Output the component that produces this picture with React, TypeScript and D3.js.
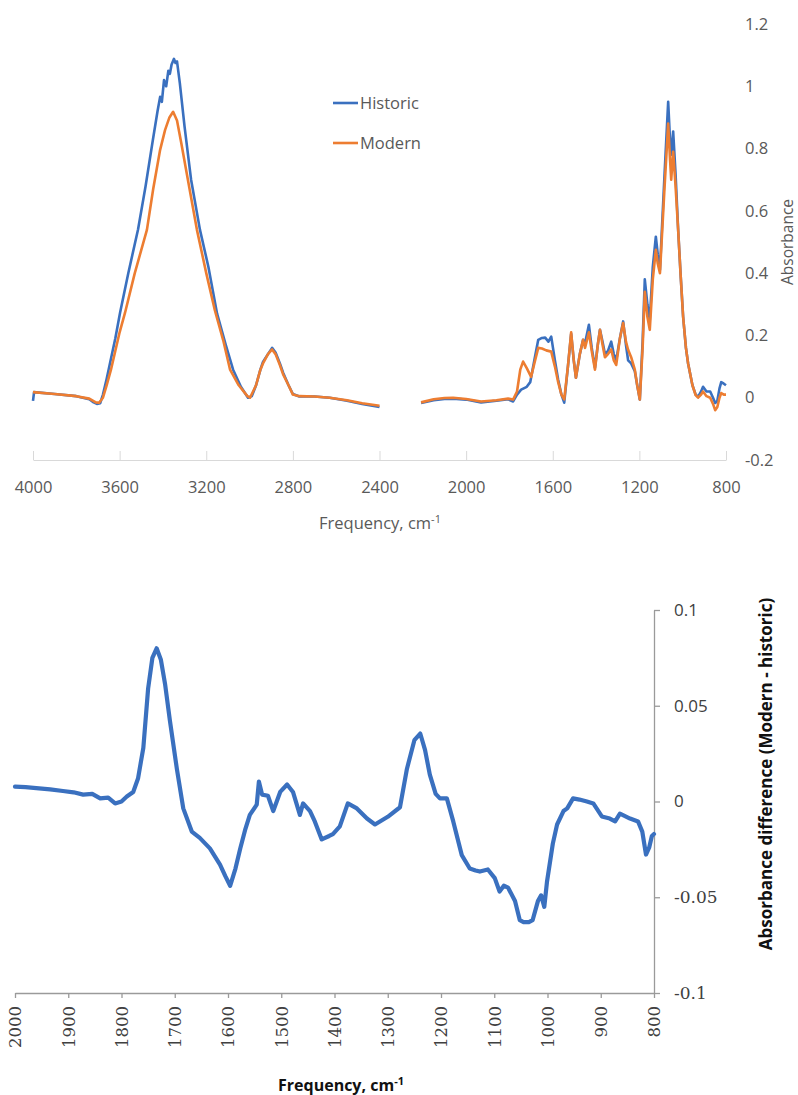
import * as d3 from "d3";
import React, { useEffect, useRef } from "react";

// top panel: FTIR spectra [wavenumber, absorbance]
const historicHigh = [
  [4000, -0.01], [3995, 0.018], [3900, 0.012], [3800, 0.005], [3740, -0.005], [3720, -0.015],
  [3705, -0.02], [3690, -0.018], [3677, 0.01], [3660, 0.06], [3644, 0.112], [3620, 0.19],
  [3598, 0.273], [3560, 0.4], [3515, 0.54], [3480, 0.68], [3446, 0.83], [3425, 0.92],
  [3413, 0.966], [3405, 0.95], [3395, 1.02], [3385, 1.0], [3375, 1.05], [3368, 1.04], [3360, 1.07],
  [3349, 1.088], [3342, 1.075], [3335, 1.08], [3322, 1.01], [3300, 0.87], [3270, 0.7],
  [3229, 0.539], [3190, 0.42], [3150, 0.27], [3110, 0.17], [3076, 0.09], [3040, 0.035],
  [3007, 0.0], [2990, 0.005], [2970, 0.04], [2950, 0.09], [2938, 0.115], [2915, 0.14],
  [2896, 0.16], [2880, 0.145], [2860, 0.11], [2845, 0.08], [2820, 0.04], [2800, 0.012],
  [2770, 0.004], [2700, 0.004], [2630, 0.0], [2550, -0.01], [2480, -0.02], [2400, -0.03],
];
const modernHigh = [
  [4000, 0.018], [3900, 0.012], [3800, 0.005], [3740, -0.003], [3710, -0.015], [3695, -0.016],
  [3677, 0.0], [3660, 0.04], [3640, 0.09], [3620, 0.15], [3600, 0.21], [3575, 0.273],
  [3530, 0.4], [3474, 0.539], [3445, 0.67], [3413, 0.796], [3390, 0.86], [3370, 0.9],
  [3353, 0.918], [3335, 0.89], [3316, 0.82], [3290, 0.72], [3243, 0.539], [3200, 0.4],
  [3160, 0.28], [3120, 0.18], [3090, 0.09], [3050, 0.04], [3010, 0.005], [2998, 0.0],
  [2970, 0.04], [2950, 0.09], [2938, 0.11], [2915, 0.14], [2896, 0.155], [2880, 0.14],
  [2860, 0.105], [2845, 0.075], [2820, 0.04], [2800, 0.01], [2770, 0.005], [2700, 0.004],
  [2630, 0.0], [2550, -0.008], [2480, -0.018], [2400, -0.026],
];
const historicLow = [
  [2208, -0.017], [2150, -0.008], [2100, -0.004], [2060, -0.003], [2000, -0.006], [1931, -0.015],
  [1860, -0.01], [1806, -0.005], [1783, -0.012], [1765, 0.01], [1746, 0.026], [1720, 0.035],
  [1704, 0.05], [1685, 0.12], [1667, 0.186], [1650, 0.192], [1635, 0.193], [1620, 0.18],
  [1607, 0.196], [1590, 0.12], [1575, 0.058], [1560, 0.01], [1547, -0.016], [1530, 0.1],
  [1515, 0.205], [1503, 0.12], [1493, 0.064], [1475, 0.14], [1460, 0.186], [1451, 0.175],
  [1433, 0.234], [1420, 0.16], [1405, 0.096], [1392, 0.17], [1382, 0.218], [1370, 0.18],
  [1359, 0.14], [1345, 0.15], [1330, 0.18], [1318, 0.14], [1307, 0.12], [1290, 0.19],
  [1275, 0.245], [1262, 0.17], [1252, 0.12], [1238, 0.11], [1221, 0.085], [1210, 0.04],
  [1198, -0.006], [1185, 0.18], [1175, 0.38], [1163, 0.3], [1152, 0.25], [1138, 0.42],
  [1124, 0.517], [1115, 0.46], [1105, 0.41], [1085, 0.7], [1067, 0.95], [1058, 0.82],
  [1053, 0.78], [1044, 0.855], [1033, 0.72], [1021, 0.54], [1010, 0.4], [998, 0.26],
  [985, 0.16], [975, 0.11], [955, 0.04], [940, 0.01], [929, 0.003], [915, 0.02], [906, 0.035],
  [890, 0.02], [873, 0.02], [860, 0.0], [850, -0.017], [840, -0.01], [830, 0.03], [822, 0.05],
  [810, 0.045], [800, 0.04],
];
const modernLow = [
  [2208, -0.015], [2150, -0.005], [2100, -0.001], [2060, 0.0], [2000, -0.004], [1931, -0.012],
  [1860, -0.008], [1806, -0.003], [1783, -0.006], [1765, 0.02], [1750, 0.09], [1737, 0.116],
  [1720, 0.095], [1700, 0.067], [1685, 0.11], [1667, 0.16], [1650, 0.158], [1630, 0.152],
  [1607, 0.148], [1590, 0.1], [1575, 0.05], [1560, 0.01], [1547, -0.005], [1530, 0.1],
  [1515, 0.21], [1503, 0.12], [1493, 0.064], [1475, 0.14], [1460, 0.186], [1451, 0.16],
  [1433, 0.21], [1420, 0.15], [1405, 0.09], [1392, 0.17], [1382, 0.218], [1370, 0.17],
  [1359, 0.13], [1345, 0.14], [1330, 0.155], [1318, 0.12], [1307, 0.105], [1290, 0.19],
  [1275, 0.24], [1262, 0.18], [1252, 0.154], [1238, 0.13], [1221, 0.09], [1210, 0.04],
  [1198, -0.006], [1185, 0.16], [1175, 0.34], [1163, 0.26], [1152, 0.218], [1138, 0.38],
  [1124, 0.475], [1115, 0.43], [1105, 0.4], [1085, 0.66], [1067, 0.88], [1058, 0.76],
  [1053, 0.7], [1044, 0.79], [1033, 0.68], [1021, 0.54], [1010, 0.4], [998, 0.26],
  [985, 0.16], [975, 0.11], [955, 0.04], [940, 0.008], [929, 0.0], [915, 0.01], [906, 0.02],
  [890, 0.005], [873, 0.0], [860, -0.02], [850, -0.04], [840, -0.03], [830, 0.0], [822, 0.015],
  [810, 0.01], [800, 0.01],
];

// bottom panel: modern - historic
const difference = [
  [2000, 0.0078], [1980, 0.0075], [1960, 0.007], [1934, 0.0063], [1910, 0.0055], [1890, 0.0048],
  [1872, 0.0036], [1855, 0.004], [1840, 0.0016], [1825, 0.002], [1812, -0.001], [1800, 0.0],
  [1790, 0.0026], [1778, 0.005], [1769, 0.012], [1759, 0.028], [1750, 0.059], [1742, 0.075],
  [1734, 0.08], [1726, 0.074], [1718, 0.061], [1709, 0.042], [1696, 0.017], [1684, -0.0036],
  [1668, -0.0157], [1653, -0.019], [1634, -0.0245], [1615, -0.033], [1605, -0.039],
  [1596, -0.044], [1586, -0.035], [1577, -0.0245], [1568, -0.015], [1559, -0.007],
  [1546, -0.0016], [1542, 0.0104], [1536, 0.0036], [1525, 0.003], [1515, -0.005], [1502, 0.005],
  [1489, 0.0089], [1478, 0.005], [1465, -0.007], [1459, -0.001], [1446, -0.005], [1437, -0.0104],
  [1424, -0.0198], [1410, -0.018], [1403, -0.017], [1390, -0.013], [1375, -0.001],
  [1358, -0.0036], [1339, -0.0089], [1324, -0.012], [1300, -0.008], [1277, -0.003],
  [1264, 0.017], [1250, 0.032], [1239, 0.0355], [1230, 0.027], [1221, 0.014], [1210, 0.004],
  [1202, 0.0016], [1189, 0.0016], [1177, -0.0104], [1161, -0.028], [1146, -0.035],
  [1135, -0.036], [1127, -0.0366], [1112, -0.0355], [1099, -0.04], [1090, -0.047],
  [1082, -0.044], [1074, -0.045], [1061, -0.052], [1052, -0.062], [1045, -0.063],
  [1035, -0.063], [1028, -0.062], [1018, -0.052], [1012, -0.049], [1006, -0.055],
  [1001, -0.042], [990, -0.022], [982, -0.012], [970, -0.005], [963, -0.0036], [952, 0.0016],
  [940, 0.001], [926, 0.0], [914, -0.001], [898, -0.0078], [883, -0.0089], [873, -0.0104],
  [864, -0.0063], [845, -0.0089], [830, -0.0104], [822, -0.0157], [815, -0.0277],
  [809, -0.024], [804, -0.018], [800, -0.017],
];

const topXTicks = [4000, 3600, 3200, 2800, 2400, 2000, 1600, 1200, 800];
const topYTicks = [-0.2, 0, 0.2, 0.4, 0.6, 0.8, 1, 1.2];
const botXTicks = [2000, 1900, 1800, 1700, 1600, 1500, 1400, 1300, 1200, 1100, 1000, 900, 800];
const botYTicks = [-0.1, -0.05, 0, 0.05, 0.1];
const legendNames = ["Historic", "Modern"];
const colors = ["#3a70bf", "#ed7d31"];

function App() {
  const ref = useRef(null);

  useEffect(() => {
    const svg = d3.select(ref.current);
    svg.selectAll("*").remove();
    const font = "'Open Sans', sans-serif";
    const fmt = (d) => String(+(+d).toFixed(2));

    // ---------- top chart ----------
    const x1 = d3.scaleLinear().domain([4000, 800]).range([33, 726]);
    const y1 = d3.scaleLinear().domain([-0.2, 1.2]).range([460, 24]);

    const xa1 = svg
      .append("g")
      .attr("transform", "translate(0," + y1(-0.2) + ")")
      .call(d3.axisBottom(x1).tickValues(topXTicks).tickSizeInner(-9).tickSizeOuter(0).tickPadding(21).tickFormat(fmt));
    xa1.selectAll("path,line").attr("stroke", "#d9d9d9");
    xa1.selectAll("text").attr("fill", "#595959").style("font-family", font).style("font-size", "16.5px");

    const ya1 = svg
      .append("g")
      .attr("transform", "translate(740,0)")
      .call(d3.axisRight(y1).tickValues(topYTicks).tickSize(0).tickPadding(5).tickFormat(fmt));
    ya1.select(".domain").remove();
    ya1.selectAll("text").attr("fill", "#595959").style("font-family", font).style("font-size", "16.5px");

    const line1 = d3
      .line()
      .x((d) => x1(d[0]))
      .y((d) => y1(d[1]));

    [[historicHigh, historicLow], [modernHigh, modernLow]].forEach((segs, i) => {
      segs.forEach((s) => {
        svg
          .append("path")
          .datum(s)
          .attr("d", line1)
          .attr("fill", "none")
          .attr("stroke", colors[i])
          .attr("stroke-width", 2.6)
          .attr("stroke-linejoin", "round");
      });
    });

    legendNames.forEach((name, i) => {
      const ly = 103 + i * 40;
      svg.append("line").attr("x1", 333).attr("x2", 358).attr("y1", ly).attr("y2", ly)
        .attr("stroke", colors[i]).attr("stroke-width", 2.6);
      svg.append("text").attr("x", 360).attr("y", ly).attr("dy", "0.35em").attr("fill", "#595959")
        .style("font-family", font).style("font-size", "16.5px").text(name);
    });

    const t1 = svg.append("text").attr("x", 380).attr("y", 529).attr("text-anchor", "middle")
      .attr("fill", "#595959").style("font-family", font).style("font-size", "16.5px");
    t1.append("tspan").text("Frequency, cm");
    t1.append("tspan").attr("dy", -6).style("font-size", "11px").text("-1");

    svg.append("text").attr("transform", "translate(788,242) rotate(-90)").attr("text-anchor", "middle")
      .attr("dy", "0.35em").attr("fill", "#595959").style("font-family", font).style("font-size", "15.5px")
      .text("Absorbance");

    // ---------- bottom chart ----------
    const x2 = d3.scaleLinear().domain([2000, 800]).range([15, 654]);
    const y2 = d3.scaleLinear().domain([-0.1, 0.1]).range([993, 610]);

    const xa2 = svg
      .append("g")
      .attr("transform", "translate(0," + y2(-0.1) + ")")
      .call(d3.axisBottom(x2).tickValues(botXTicks).tickSizeInner(5).tickSizeOuter(0).tickFormat(fmt));
    xa2.selectAll("path,line").attr("stroke", "#9a9a9a").attr("stroke-width", 1.3);
    xa2.selectAll("text")
      .attr("transform", "rotate(-90)")
      .attr("x", -13)
      .attr("y", 0)
      .attr("dy", "0.36em")
      .style("text-anchor", "end")
      .attr("fill", "#404040")
      .style("font-family", "'DejaVu Serif', serif")
      .style("font-size", "16.5px");

    const ya2 = svg
      .append("g")
      .attr("transform", "translate(" + x2(800) + ",0)")
      .call(d3.axisRight(y2).tickValues(botYTicks).tickSizeInner(6).tickSizeOuter(0).tickPadding(14).tickFormat(fmt));
    ya2.selectAll("path,line").attr("stroke", "#9a9a9a").attr("stroke-width", 1.3);
    ya2.selectAll("text").attr("fill", "#404040").style("font-size", "17px")
      .style("font-family", (d) => (d < 0 ? "'DejaVu Serif', serif" : font));

    svg
      .append("path")
      .datum(difference)
      .attr("d", d3.line().x((d) => x2(d[0])).y((d) => y2(d[1])))
      .attr("fill", "none")
      .attr("stroke", colors[0])
      .attr("stroke-width", 4.2)
      .attr("stroke-linejoin", "round")
      .attr("stroke-linecap", "round");

    const t2 = svg.append("text").attr("x", 341).attr("y", 1091).attr("text-anchor", "middle")
      .attr("fill", "#111").style("font-family", font).style("font-weight", "bold").style("font-size", "16px");
    t2.append("tspan").text("Frequency, cm");
    t2.append("tspan").attr("dy", -6).style("font-size", "11px").text("-1");

    svg.append("text").attr("transform", "translate(766,774) rotate(-90)").attr("text-anchor", "middle")
      .attr("dy", "0.35em").attr("fill", "#111").style("font-family", font).style("font-weight", "bold")
      .style("font-size", "17px").text("Absorbance  difference (Modern - historic)");
  }, []);

  return (
    <svg
      ref={ref}
      width={798}
      height={1095}
      style={{ position: "absolute", left: 0, top: 0, background: "#fff" }}
    />
  );
}

export default App;
